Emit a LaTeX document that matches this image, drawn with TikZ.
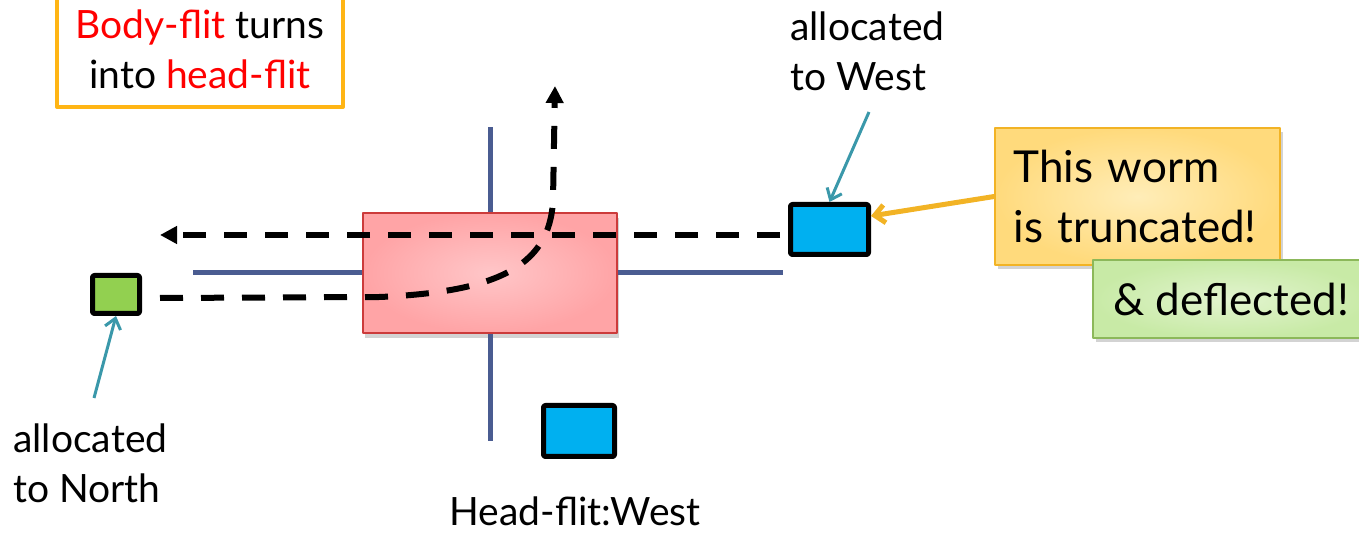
\documentclass[tikz,border=0pt]{standalone}
\usepackage{fontspec}
\setmainfont{Lato}
\usetikzlibrary{arrows.meta,shadows}

\definecolor{routerin}{HTML}{FFC6C8}
\definecolor{routerout}{HTML}{FFA4A6}
\definecolor{routeredge}{HTML}{CC3B3B}
\definecolor{portline}{HTML}{4A5C91}
\definecolor{flitblue}{HTML}{00B0F0}
\definecolor{flitgreen}{HTML}{92D050}
\definecolor{pointer}{HTML}{3A98AA}
\definecolor{noteedge}{HTML}{F2B325}
\definecolor{notein}{HTML}{FFEDB8}
\definecolor{noteout}{HTML}{FFDA7C}
\definecolor{okin}{HTML}{E2F4CF}
\definecolor{okout}{HTML}{C8EAA6}
\definecolor{okedge}{HTML}{8CB85A}
\definecolor{bannerorange}{HTML}{FFB515}
\definecolor{hotred}{HTML}{FF0000}

\tikzset{
  port/.style={portline, line width=2.5pt, line cap=butt},
  flit/.style={draw=black, line width=2.5pt, rounded corners=1pt, inner sep=0pt},
  worm/.style={line width=3pt, dash pattern=on 11.5pt off 9pt, line cap=butt,
    -{Triangle[length=8.5pt,width=8.5pt]}},
  pointto/.style={pointer, line width=1.5pt, -{Straight Barb[length=5pt,width=8pt]}},
  callout/.style={shade, inner color=notein, outer color=noteout, draw=noteedge,
    line width=0.8pt, drop shadow={opacity=0.35, shadow xshift=1.5pt, shadow yshift=-2pt}},
  label/.style={inner sep=0pt, align=left},
}

\begin{document}
\begin{tikzpicture}[x=0.5pt, y=-0.5pt, font=\fontsize{19.5}{25}\selectfont, line join=round]
  \useasboundingbox (0,0) rectangle (1359,533);

  % router with its four ports
  \node[shade, inner color=routerin, outer color=routerout, draw=routeredge, line width=1pt,
    minimum width=127pt, minimum height=60pt, inner sep=0pt,
    drop shadow={opacity=0.35, shadow xshift=1pt, shadow yshift=-2.5pt}] (router) at (490,273) {};
  \coordinate (portW) at (193,273);
  \coordinate (portE) at (783,273);
  \coordinate (portN) at (490,127);
  \coordinate (portS) at (490,441);
  \draw[port] (router.west) -- (portW);
  \draw[port] (router.east) -- (portE);
  \draw[port] (router.north) -- (portN);
  \draw[port] (router.south) -- (portS);

  % flits
  \node[flit, fill=flitblue, minimum width=39pt, minimum height=25pt] (flitW) at (829.5,229.5) {};
  \node[flit, fill=flitblue, minimum width=35.5pt, minimum height=25.5pt] (flitS) at (579,431) {};
  \node[flit, fill=flitgreen, minimum width=23.5pt, minimum height=19pt] (flitN) at (116,294.5) {};

  % worm paths
  \coordinate (wormstart) at (780,235);
  \coordinate (wormend) at (160,235);
  \draw[worm] (wormstart) -- (wormend);
  \coordinate (bodystart) at (160,298);
  \coordinate (headend) at (555,86);
  \draw[worm] (bodystart) -- (380,297) .. controls (490,292) and (550,270) .. (553,200) -- (headend);

  % labels
  \node[label, anchor=north west] (lblWest) at (790,11) {allocated\\to West};
  \node[label, anchor=north west] (lblNorth) at (13,423) {allocated\\to North};
  \node[label, anchor=base] (lblHead) at (575,525) {Head-flit:West};
  \coordinate (tailW) at (869,112);
  \draw[pointto] (tailW) -- (flitW.north);
  \coordinate (tailN) at (94,398);
  \draw[pointto] (tailN) -- (flitN.south);

  % banner
  \node[draw=bannerorange, line width=2pt, fill=white, minimum width=143pt, minimum height=58pt,
    align=center, inner sep=0pt] (banner) at (200,49)
    {{\color{hotred}Body-flit} turns\\into {\color{hotred}head-flit}};

  % notes
  \node[callout, minimum width=142.5pt, minimum height=68.5pt, text width=124pt, inner xsep=9pt,
    inner ysep=0pt, align=left, font=\fontsize{22}{30}\selectfont] (note) at (1137.5,196.5)
    {This worm\\is truncated!};
  \node[callout, inner color=okin, outer color=okout, draw=okedge, minimum width=138pt,
    minimum height=39pt, inner sep=0pt, font=\fontsize{22}{30}\selectfont] (notedef) at (1231,299)
    {\& deflected!};
  \draw[noteedge, line width=2.5pt, -{Straight Barb[length=5pt,width=9pt]}] (note.west) -- (flitW.east |- 0,216);
\end{tikzpicture}
\end{document}
